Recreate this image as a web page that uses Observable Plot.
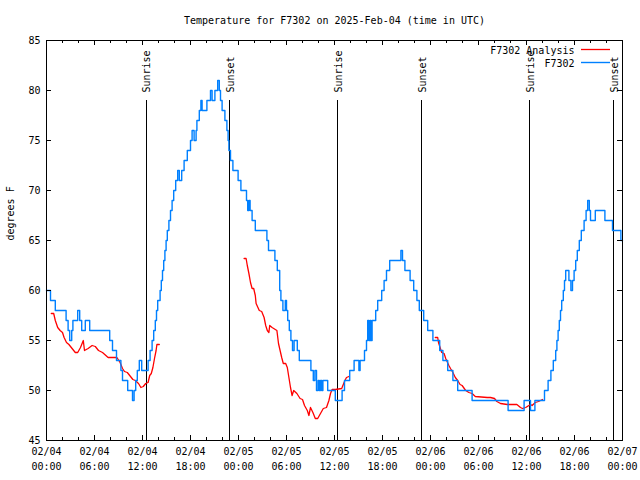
<!DOCTYPE html>
<html><head><meta charset="utf-8">
<script src="https://cdn.jsdelivr.net/npm/d3@7"></script>
<script src="https://cdn.jsdelivr.net/npm/@observablehq/plot@0.6"></script>
<style>html,body{margin:0;padding:0;background:#fff} svg{display:block}</style>
</head><body><div id="chart"></div>
<script>
// ---- text ----
const titleText = "Temperature for F7302 on 2025-Feb-04 (time in UTC)";
const yLabelText = "degrees F";
const seriesNames = ["F7302 Analysis", "F7302"];
const seriesColors = ["#ff0000", "#0080ff"];

// ---- time base (hours after 2025-02-04 00:00 UTC) ----
const startUTC = Date.UTC(2025, 1, 4);
const xDomainHours = [0, 72];
const yDomain = [45, 85];

// ---- F7302 observations: [hour, °F] step breakpoints ----
const blueSteps = [
  [0,60],[0.5,59],[1.1,58],[2.45,57],[2.7,56],[2.9,55],[3.15,56],[3.3,57],[3.9,58],[4.15,57],[4.4,56],[4.85,57],[5.4,56],
  [7.9,55],[8.25,54],[8.75,53],[9.3,52],[9.5,51],[10.15,50],[10.75,49],[10.95,50],[11.15,51],[11.35,52],[11.6,53],[11.9,52],
  [12.7,53],[12.95,54],[13.2,55],[13.4,56],[13.6,57],[13.75,58],[13.9,59],[14.2,60],[14.35,61],[14.5,62],[14.65,63],[14.8,64],
  [14.95,65],[15.1,66],[15.3,67],[15.5,68],[15.7,69],[15.9,70],[16.15,71],[16.4,72],[16.6,71],[16.9,72],[17.2,73],[17.6,74],
  [18.0,75],[18.2,76],[18.45,75],[18.7,76],[18.8,77],[19.1,78],[19.3,79],[19.45,78],[20.05,79],[20.5,80],[20.7,79],[21.05,80],
  [21.4,81],[21.6,80],[21.75,79],[21.95,78],[22.3,77],[22.55,76],[22.7,75],[22.8,74],[23.0,73],[23.3,72],[23.95,71],[24.3,70],
  [25.0,69],[25.15,68],[25.3,69],[25.45,68],[25.7,67],[26.1,66],[27.55,65],[27.75,64],[28.55,63],[28.85,62],[29.15,60],[29.3,59],
  [29.55,58],[29.85,59],[30.0,58],[30.15,57],[30.35,56],[30.55,55],[30.75,54],[30.95,55],[31.35,54],[31.6,53],
  [33.05,52],[33.35,51],[33.55,52],[33.75,50],[33.95,51],[34.1,50],[34.25,51],[34.4,50],[34.55,51],[35.15,50],[36.1,49],
  [36.95,50],[37.25,51],[37.9,52],[38.45,53],[39.05,52],[39.2,53],[39.75,54],[40.0,55],[40.15,57],[40.3,55],[40.45,57],
  [40.55,55],[40.7,57],[41.15,58],[41.4,59],[41.9,60],[42.2,61],[42.5,62],[42.9,63],[44.3,64],[44.5,63],[44.8,62],[45.45,61],
  [45.9,60],[46.3,59],[46.6,58],[47.15,57],[47.65,56],[48.3,55],[49.15,54],[49.55,53],[50.15,52],[50.8,51],[51.4,50],[53.2,49],
  [57.7,48],[59.7,49],[60.5,48],[61.05,49],[62.25,50],[62.7,51],[63.05,52],[63.35,53],[63.65,54],[63.8,55],[63.95,56],[64.1,57],
  [64.25,58],[64.4,59],[64.6,60],[64.75,61],[64.9,62],[65.3,61],[65.55,60],[65.75,61],[65.95,62],[66.15,63],[66.35,64],[66.6,65],
  [66.85,66],[67.2,67],[67.45,68],[67.65,69],[67.85,68],[68.0,67],[68.6,68],[69.8,67],[70.75,66],[71.8,65],[72,65]
];

// ---- F7302 Analysis: [hour, °F], one list per unbroken segment ----
const redSegment1 = [
  [0.6,57.7],[0.9,57.7],[1.1,57.0],[1.4,56.3],[1.7,56.0],[2.0,55.8],[2.2,55.3],[2.5,54.8],[2.8,54.6],[3.2,54.2],[3.6,53.8],
  [3.9,53.8],[4.25,54.3],[4.6,55.0],[4.75,54.0],[5.2,54.2],[5.7,54.5],[6.1,54.4],[6.5,54.0],[7.0,53.8],[7.7,53.3],[8.8,53.3],
  [9.2,52.8],[9.5,52.2],[9.75,51.9],[10.1,51.8],[10.5,51.4],[10.8,51.1],[11.1,51.0],[11.5,50.7],[11.8,50.3],[12.1,50.4],
  [12.4,50.7],[12.7,50.8],[12.9,51.5],[13.1,51.7],[13.3,52.3],[13.5,53.2],[13.7,54.0],[13.8,54.6],[14.1,54.6]
];
const redSegment2 = [
  [24.7,63.2],[24.95,63.2],[25.1,62.5],[25.3,61.7],[25.5,60.8],[25.7,60.2],[25.9,60.2],[26.1,59.5],[26.2,58.7],[26.6,58.0],
  [26.9,57.9],[27.2,57.3],[27.4,56.5],[27.6,56.0],[27.8,55.8],[27.9,56.5],[28.2,56.3],[28.6,56.1],[28.8,56.0],[29.0,54.7],
  [29.2,54.0],[29.4,53.3],[29.6,52.7],[29.9,52.7],[30.1,52.3],[30.3,51.3],[30.5,50.3],[30.7,49.5],[30.9,50.0],[31.3,49.7],
  [31.7,49.2],[32.0,49.1],[32.25,48.5],[32.6,48.0],[32.8,47.5],[33.0,48.3],[33.3,47.8],[33.6,47.2],[33.9,47.2],[34.25,47.7],
  [34.6,48.2],[35.0,48.3],[35.3,49.0],[35.5,49.7],[35.7,50.1],[36.1,50.1],[36.9,50.2],[37.1,50.6],[37.3,51.0],[37.5,51.3],[37.8,51.4]
];
const redSegment3 = [
  [48.6,55.3],[48.9,55.3],[49.0,54.8],[49.2,54.3],[49.4,53.8],[49.7,53.7],[49.9,53.2],[50.3,52.5],[50.5,52.2],[50.8,51.8],
  [51.1,51.3],[51.4,51.0],[51.7,50.6],[51.95,50.5],[52.4,50.0],[52.8,49.8],[53.2,49.7],[53.6,49.4],[55.1,49.3],[55.5,49.3],
  [56.0,49.2],[56.3,48.9],[56.75,48.7],[57.6,48.6],[58.8,48.6],[59.25,48.3],[59.5,48.2],[59.9,48.3],[60.3,48.5],[60.5,48.6],
  [60.7,48.5],[61.1,48.8],[61.5,48.9],[62.0,49.1]
];

// ---- sunrise / sunset ----
const sunHours = [12.45, 22.9, 36.42, 46.9, 60.4, 70.9];
const sunLabels = ["Sunrise", "Sunset", "Sunrise", "Sunset", "Sunrise", "Sunset"];

// ---- ticks ----
const majorTickHours = [0, 6, 12, 18, 24, 30, 36, 42, 48, 54, 60, 66, 72];
const minorTickHours = [2, 4, 8, 10, 14, 16, 20, 22, 26, 28, 32, 34, 38, 40, 44, 46, 50, 52, 56, 58, 62, 64, 68, 70];
const yTicks = [45, 50, 55, 60, 65, 70, 75, 80, 85];

// ---- build ----
const toDate = h => new Date(startUTC + h * 3600000);
const pad = n => String(n).padStart(2, "0");
const fmt = d => `${pad(d.getUTCMonth() + 1)}/${pad(d.getUTCDate())}\n${pad(d.getUTCHours())}:${pad(d.getUTCMinutes())}`;

const blue = blueSteps.map(([h, v]) => ({t: toDate(h), v}));
const red = [redSegment1, redSegment2, redSegment3].flatMap((seg, k) => seg.map(([h, v]) => ({t: toDate(h), v, seg: k})));
const sun = sunHours.map((h, i) => ({t: toDate(h), label: sunLabels[i]}));
const majors = majorTickHours.map(toDate);
const minors = minorTickHours.map(toDate);

const W = 640, H = 480, mL = 46, mR = 18, mT = 40, mB = 40;
const fw = W - mL - mR, fh = H - mT - mB;
const crisp = {stroke: "#000", shapeRendering: "crispEdges"};

const chart = Plot.plot({
  width: W, height: H,
  marginLeft: mL, marginRight: mR, marginTop: mT, marginBottom: mB,
  style: {fontFamily: "'DejaVu Sans Mono', monospace", fontSize: "10px", background: "#fff", color: "#000"},
  x: {type: "utc", domain: xDomainHours.map(toDate), axis: null, label: null},
  y: {domain: yDomain, axis: null, label: null},
  marks: [
    // sunrise/sunset
    Plot.ruleX(sun, {x: "t", insetTop: 60, strokeWidth: 1, ...crisp}),
    Plot.text(sun, {x: "t", text: "label", frameAnchor: "top", dy: 52, dx: 1, rotate: -90, textAnchor: "start", lineAnchor: "middle", fill: "#000"}),
    // series
    Plot.line(red, {x: "t", y: "v", z: "seg", stroke: seriesColors[0], strokeWidth: 1.3}),
    Plot.line(blue, {x: "t", y: "v", stroke: seriesColors[1], strokeWidth: 1.4, curve: "step-after"}),
    // ticks (inside, mirrored)
    Plot.ruleX(majors, {x: d => d, insetTop: fh - 5, ...crisp}),
    Plot.ruleX(majors, {x: d => d, insetBottom: fh - 5, ...crisp}),
    Plot.ruleX(minors, {x: d => d, insetTop: fh - 3, ...crisp}),
    Plot.ruleX(minors, {x: d => d, insetBottom: fh - 3, ...crisp}),
    Plot.ruleY(yTicks, {y: d => d, insetRight: fw - 5, ...crisp}),
    Plot.ruleY(yTicks, {y: d => d, insetLeft: fw - 5, ...crisp}),
    // axis tick labels
    Plot.axisX(majors, {tickSize: 0, tickPadding: 4, tickFormat: fmt, lineHeight: 1.5, label: null, fill: "#000"}),
    Plot.axisY(yTicks, {tickSize: 0, tickPadding: 6, label: null, fill: "#000"}),
    Plot.frame(crisp),
    // title and y label
    Plot.text([titleText], {frameAnchor: "top", dy: -20, lineAnchor: "middle", fill: "#000"}),
    Plot.text([yLabelText], {frameAnchor: "left", dx: -36, rotate: -90, lineAnchor: "middle", fill: "#000"}),
    // legend
    Plot.text([seriesNames[0]], {frameAnchor: "top-right", dx: -48, dy: 10, textAnchor: "end", lineAnchor: "middle", fill: "#000"}),
    Plot.text([seriesNames[1]], {frameAnchor: "top-right", dx: -48, dy: 23, textAnchor: "end", lineAnchor: "middle", fill: "#000"}),
    Plot.ruleY([yDomain[1]], {dy: 9, insetLeft: fw - 41, insetRight: 12, stroke: seriesColors[0], strokeWidth: 1.3}),
    Plot.ruleY([yDomain[1]], {dy: 22, insetLeft: fw - 41, insetRight: 12, stroke: seriesColors[1], strokeWidth: 1.4})
  ]
});
document.getElementById("chart").appendChild(chart);
</script>
</body></html>
